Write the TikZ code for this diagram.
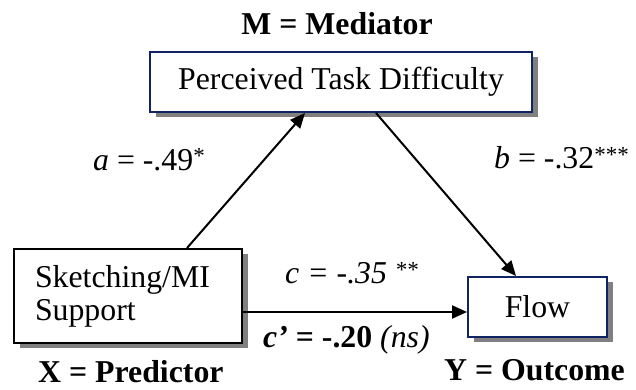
\documentclass[tikz,border=0pt]{standalone}
\usepackage{fontspec}
\setmainfont{Liberation Serif}
\usetikzlibrary{arrows.meta,shadows,calc}
\definecolor{navy}{RGB}{16,36,100}
\definecolor{shadowgray}{RGB}{128,128,128}
\newcommand{\smallast}[1]{\raisebox{6pt}{\fontsize{23}{23}\selectfont #1}}
\begin{document}
\begin{tikzpicture}[x=1pt,y=-1pt, font=\fontsize{31.8}{33}\selectfont,
  box/.style={draw, line width=2pt, fill=white, rectangle, inner sep=0pt,
    drop shadow={shadow xshift=6pt, shadow yshift=-5pt, fill=shadowgray, opacity=1}},
  arr/.style={line width=2pt, -{Triangle[length=15pt,width=13pt]}},
  lab/.style={inner sep=0pt, anchor=base west},
  labr/.style={inner sep=0pt, anchor=base east}]
\useasboundingbox (0,0) rectangle (636,390);

\node[box, draw=navy, minimum width=382pt, minimum height=60pt] (M) at (341,82) {Perceived Task Difficulty};
\node[box, draw=black, minimum width=228pt, minimum height=94pt, align=left, text width=186pt] (X) at (128,296) {Sketching/MI\\Support};
\node[box, draw=navy, minimum width=139pt, minimum height=60pt] (Y) at (537.5,307) {Flow};

\draw[arr] ($(X.north west)+(174,0)$) -- ($(M.south west)+(156,0)$);
\draw[arr] ($(M.south west)+(227,0)$) -- ($(Y.north west)+(49,0)$);
\coordinate (c0) at ($(X.south east)+(0,-32)$);
\draw[arr] (c0) -- (c0 -| Y.west);

\node[inner sep=0pt, anchor=base] (lM) at (337,35) {\textbf{M = Mediator}};
\node[lab] (la) at (93,170) {\textit{a} = -.49\smallast{*}};
\node[labr] (lb) at (629,168) {\textit{b} = -.32\smallast{***}};
\node[lab] (lc) at (285,283) {\textit{c = -.35 \smallast{**}}};
\node[lab] (lc2) at (263,347) {\textbf{\textit{c’} = -.20} \textit{(ns)}};
\node[lab] (lX) at (38,382) {\textbf{X = Predictor}};
\node[labr] (lY) at (625,380) {\textbf{Y = Outcome}};
\end{tikzpicture}
\end{document}
